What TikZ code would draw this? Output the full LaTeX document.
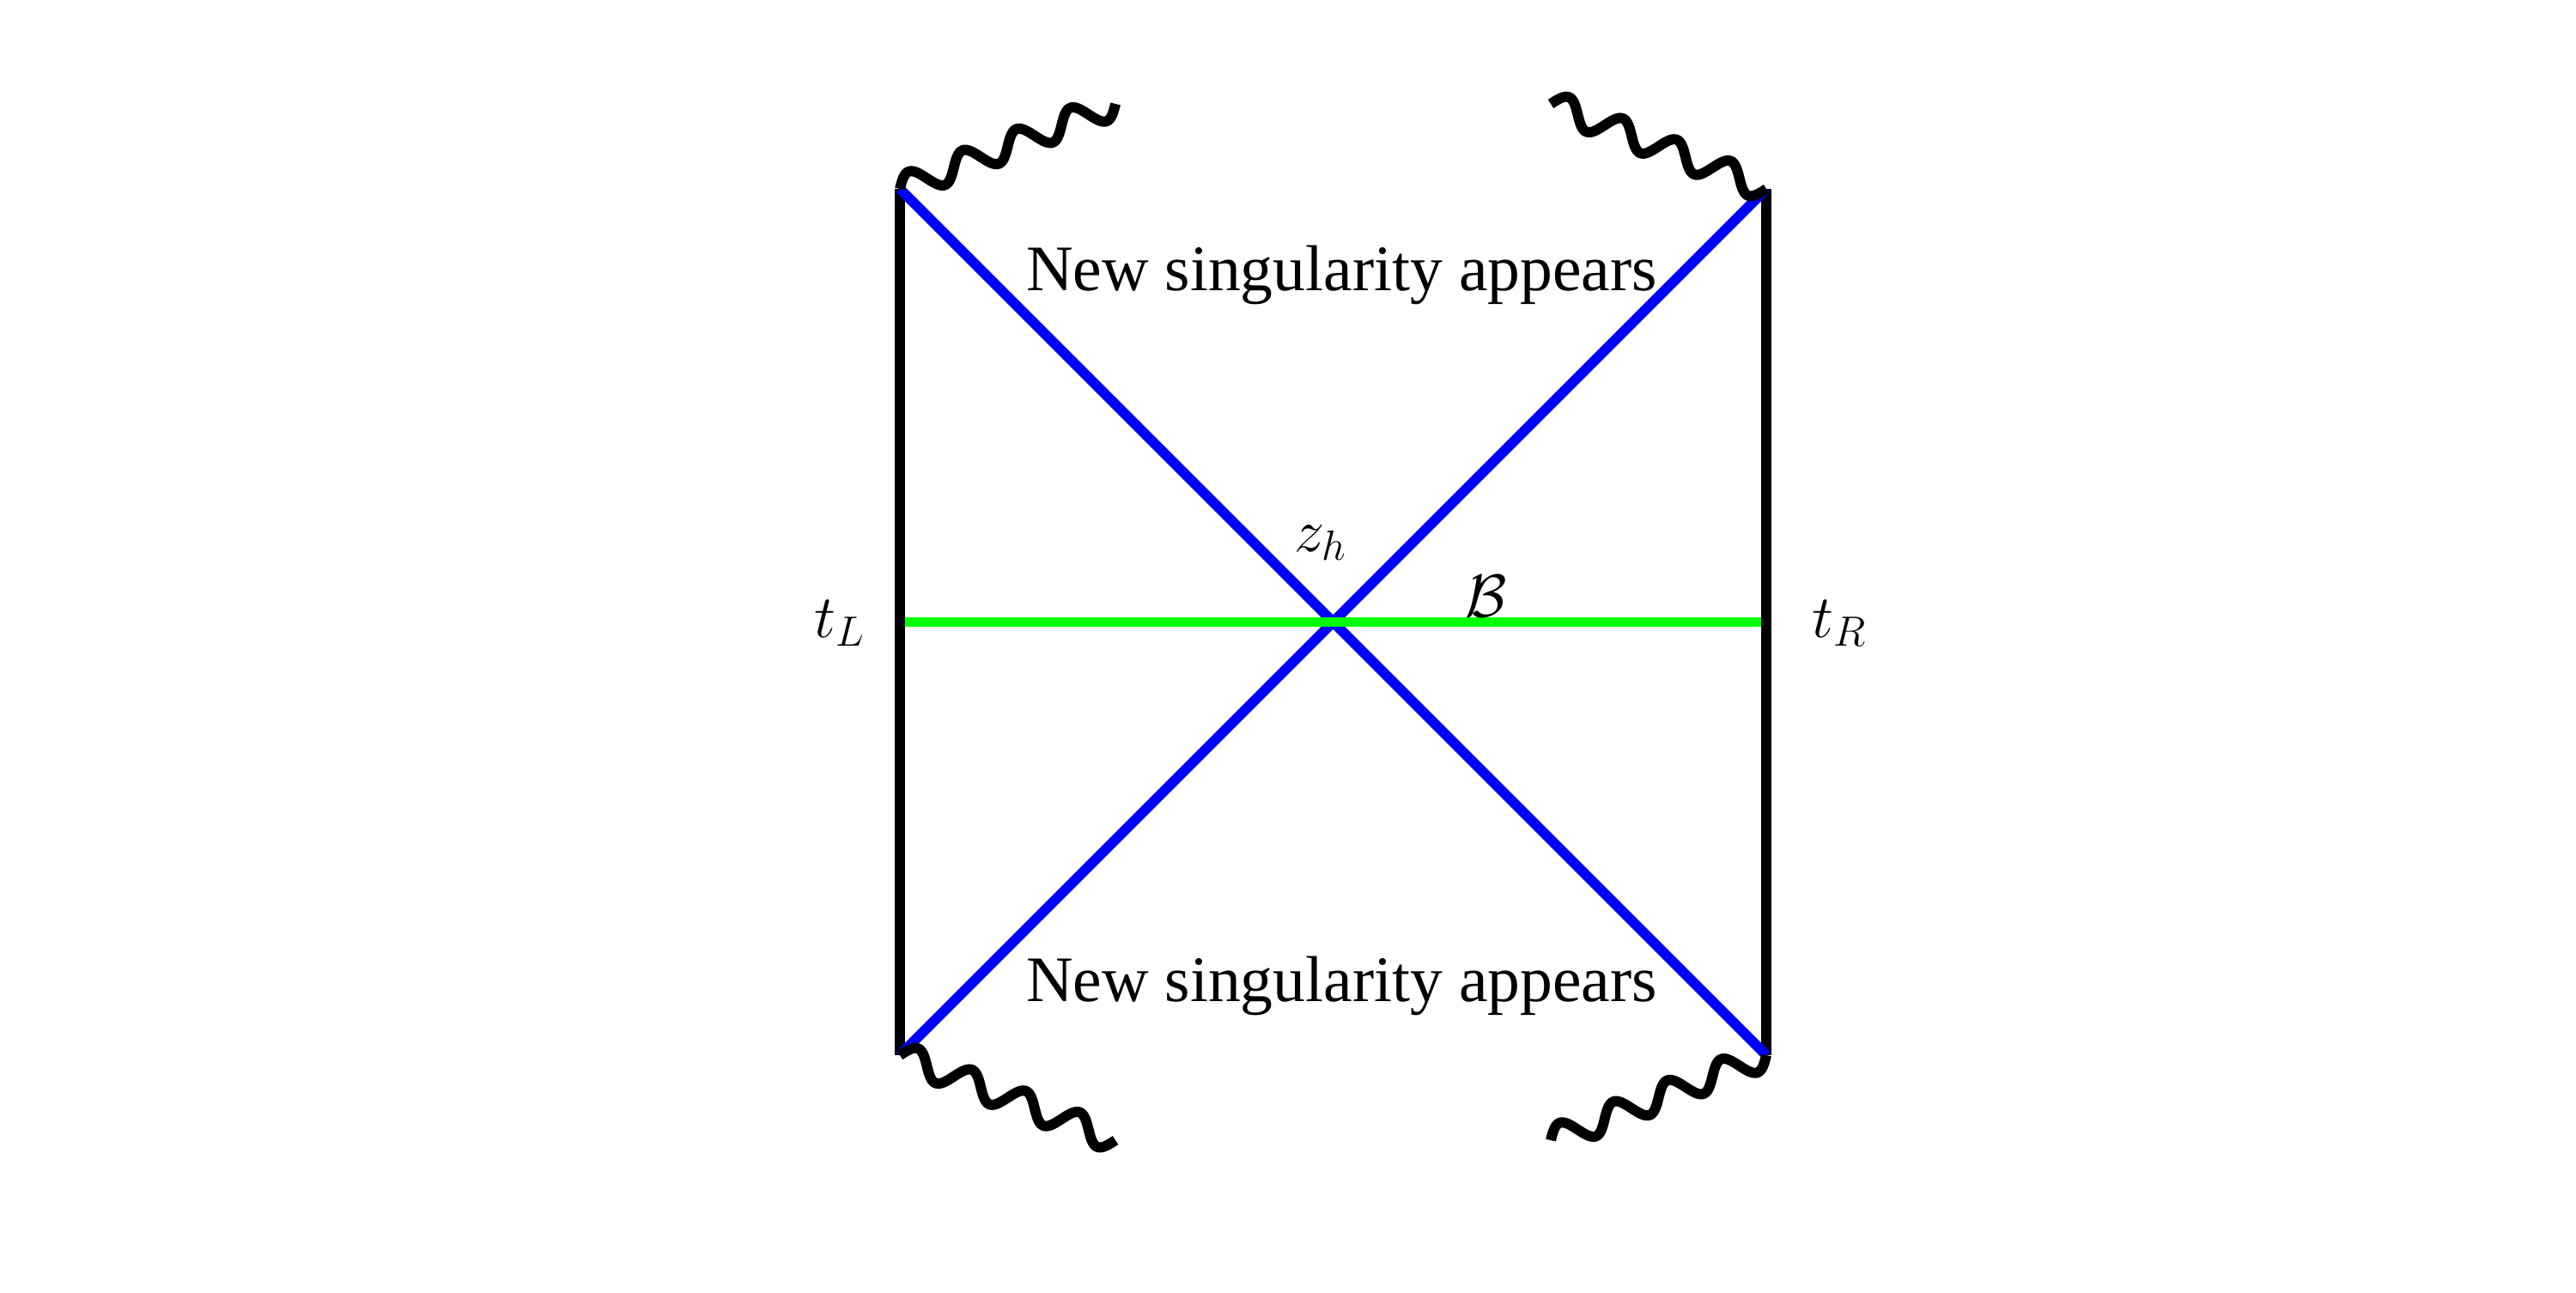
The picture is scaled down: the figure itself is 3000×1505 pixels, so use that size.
\RequirePackage{fix-cm}
\documentclass[tikz,border=0pt]{standalone}
\usepackage{fontspec}
\newfontfamily\tnr{Liberation Serif}
\definecolor{hblue}{RGB}{0,0,255}
\definecolor{sgreen}{RGB}{0,255,0}
\newcommand\singwave[2]{%
  \draw[sing, shift={(#1)}, rotate=#2]
    plot[domain=0:76.76, samples=161, smooth, variable=\t]
      ({\t*1pt}, {4.27pt*sin(\t*18.7598)});}
\begin{document}
\begin{tikzpicture}[x=0.01cm, y=-0.01cm,
  bound/.style={line width=3.4pt, draw=black},
  horizon/.style={line width=3.4pt, draw=hblue},
  slice/.style={line width=3.4pt, draw=sgreen, shorten <=1.7pt, shorten >=1.7pt},
  sing/.style={line width=3.4pt, draw=black},
  mlbl/.style={inner sep=0pt, font=\fontsize{20}{24}\selectfont},
  txt/.style={inner sep=0pt, font=\tnr\fontsize{21.5}{26}\selectfont}]
\useasboundingbox (0,0) rectangle (3000,1505);
\coordinate (TL) at (1048,220);
\coordinate (TR) at (2057,220);
\coordinate (BL) at (1048,1229);
\coordinate (BR) at (2057,1229);
\coordinate (L) at (1048,724.5);
\coordinate (R) at (2057,724.5);
\coordinate (wTR) at (1806,121);
\coordinate (wBR) at (1806,1328);
% boundaries
\draw[bound] (TL) -- (BL);
\draw[bound] (TR) -- (BR);
% horizons
\draw[horizon] (TL) -- (BR);
\draw[horizon] (BL) -- (TR);
% slice
\draw[slice] (L) -- (R);
% singularities
\singwave{TL}{21.53}
\singwave{wTR}{-21.53}
\singwave{BL}{-21.53}
\singwave{wBR}{21.53}
% labels
\node[mlbl, anchor=base west] (tL) at (948,742) {$t_L$};
\node[mlbl, anchor=base west] (tR) at (2110,742) {$t_R$};
\node[mlbl, anchor=base west] (zh) at (1507,642) {$z_h$};
\node[mlbl, anchor=base] (B) at (1731,718) {$\mathcal{B}$};
\node[txt, anchor=base] (top) at (1562.5,338) {New singularity appears};
\node[txt, anchor=base] (bot) at (1562.5,1166) {New singularity appears};
\end{tikzpicture}
\end{document}
